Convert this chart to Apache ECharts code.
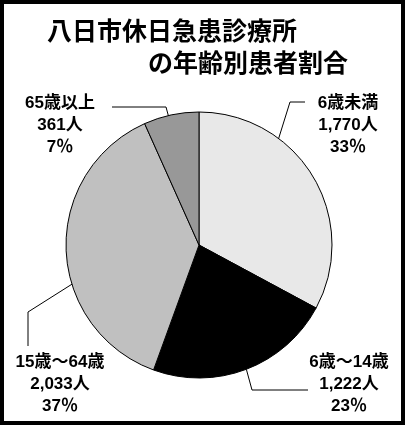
<!DOCTYPE html>
<html>
<head>
<meta charset="utf-8">
<script src="https://cdn.jsdelivr.net/npm/echarts@6/dist/echarts.min.js"></script>
<style>
html,body{margin:0;padding:0;background:#fff;}
#main{width:405px;height:425px;}
</style>
</head>
<body>
<div id="main"></div>
<script>
// ---- data ----
const titleLines = ['八日市休日急患診療所', 'の年齢別患者割合'];
const categories = ['6歳未満', '6歳～14歳', '15歳～64歳', '65歳以上'];
const patients = [1770, 1222, 2033, 361];
const percentLabels = [33, 23, 37, 7];
const sliceColors = ['#e8e8e8', '#000000', '#c0c0c0', '#989898'];

// ---- layout ----
const CX = 199, CY = 245, R = 133;
const labelPos = [[348, 125], [349, 384], [60, 384], [60, 125]];
const lineElbow = [[290, 102], [252, 390], [28, 312], [166, 107]];
const lineEnd = [[305, 102], [308, 390], [28, 346], [112, 107]];
const startFrac = [0.5, 1.0, 0.52, 0.59];

const total = patients.reduce((a, b) => a + b, 0);
function midPoint(i, frac) {
  let cum = 0;
  for (let k = 0; k < i; k++) cum += patients[k];
  const a = (90 - (cum + patients[i] / 2) / total * 360) * Math.PI / 180;
  return [CX + R * frac * Math.cos(a), CY - R * frac * Math.sin(a)];
}

const chart = echarts.init(document.getElementById('main'), null, {renderer: 'canvas'});
const font = '"Liberation Sans", "Noto Sans CJK JP", sans-serif';
chart.setOption({
  animation: false,
  backgroundColor: '#fff',
  title: [
    {text: titleLines[0], left: 47, top: 18, padding: 0,
     textStyle: {fontFamily: '"Noto Sans CJK JP", sans-serif', fontSize: 25, fontWeight: 'bold', color: '#000'}},
    {text: titleLines[1], left: 148, top: 50, padding: 0,
     textStyle: {fontFamily: '"Noto Sans CJK JP", sans-serif', fontSize: 25, fontWeight: 'bold', color: '#000'}}
  ],
  graphic: [{
    type: 'rect', silent: true, z: 100,
    shape: {x: 2, y: 2, width: 401, height: 421},
    style: {fill: 'none', stroke: '#000', lineWidth: 4}
  }],
  series: [{
    type: 'pie',
    center: [CX, CY],
    radius: R,
    startAngle: 90,
    clockwise: true,
    silent: true,
    avoidLabelOverlap: false,
    itemStyle: {borderColor: '#000', borderWidth: 1},
    data: categories.map((c, i) => ({name: c, value: patients[i], itemStyle: {color: sliceColors[i]}})),
    label: {
      show: true,
      position: 'outside',
      color: '#000',
      fontFamily: font,
      fontSize: 17,
      fontWeight: 'bold',
      lineHeight: 22,
      align: 'center',
      overflow: 'none',
      width: 120,
      formatter: p => p.name + '\n' + patients[p.dataIndex].toLocaleString('en-US') + '人\n' + percentLabels[p.dataIndex] + '％'
    },
    labelLine: {show: true, lineStyle: {color: '#000', width: 1}},
    labelLayout: function (params) {
      const i = params.dataIndex;
      return {
        x: labelPos[i][0],
        y: labelPos[i][1],
        align: 'center',
        verticalAlign: 'middle',
        hideOverlap: false,
        labelLinePoints: [midPoint(i, startFrac[i]), lineElbow[i], lineEnd[i]]
      };
    }
  }]
});
</script>
</body>
</html>
